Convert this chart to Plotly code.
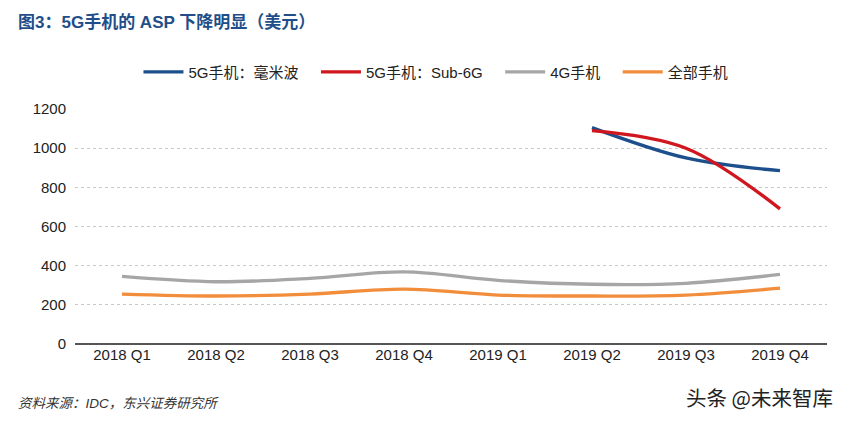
import plotly.graph_objects as go

categories = ["2018 Q1", "2018 Q2", "2018 Q3", "2018 Q4", "2019 Q1", "2019 Q2", "2019 Q3", "2019 Q4"]
mmwave = [None, None, None, None, None, 1105, 950, 885]
sub6 = [None, None, None, None, None, 1090, 1000, 690]
g4 = [345, 318, 335, 368, 325, 305, 310, 355]
allphones = [255, 245, 255, 280, 250, 245, 250, 285]
y_ticks = [0, 200, 400, 600, 800, 1000, 1200]

FONT = "Liberation Sans, Arial, Noto Sans CJK SC, sans-serif"
PAD = "\u00a0\u00a0\u00a0"

fig = go.Figure()
series = [
    ("5G手机：毫米波" + PAD, mmwave, "#1c4f8c"),
    ("5G手机：Sub-6G" + PAD, sub6, "#d0161e"),
    ("4G手机" + PAD, g4, "#a6a6a6"),
    ("全部手机", allphones, "#f28d3c"),
]
for name, vals, color in series:
    fig.add_trace(go.Scatter(
        x=categories, y=vals, name=name, mode="lines",
        line=dict(color=color, width=3.3, shape="spline", smoothing=1.0),
        connectgaps=False,
    ))

fig.update_layout(
    width=842, height=423,
    margin=dict(l=67, r=23, t=101, b=87, autoexpand=False),
    paper_bgcolor="white", plot_bgcolor="white",
    font=dict(family=FONT, size=14, color="#222"),
    showlegend=True,
    legend=dict(orientation="h", x=0.48, xanchor="center", y=1.157, yanchor="middle",
                font=dict(size=15, color="#222"), itemwidth=40, traceorder="normal",
                tracegroupgap=0),
    xaxis=dict(type="category", showgrid=False, showline=False, ticks="",
               tickfont=dict(size=15, color="#222"), range=[-0.5, 7.5], automargin=False),
    yaxis=dict(range=[0, 1200], tickvals=y_ticks, showgrid=True,
               gridcolor="#c8c8c8", griddash="dot", gridwidth=1,
               zeroline=True, zerolinecolor="#555", zerolinewidth=2,
               tickfont=dict(size=15, color="#222"), ticks="", showline=False,
               ticklabelstandoff=8, automargin=False),
    annotations=[
        dict(text="<b>图3：5G手机的 ASP 下降明显（美元）</b>", xref="paper", yref="paper",
             x=-0.078, xanchor="left", y=1.37, yanchor="middle", showarrow=False,
             font=dict(size=17, color="#1f4e89", family=FONT)),
        dict(text="<i>资料来源：IDC，东兴证券研究所</i>", xref="paper", yref="paper",
             x=-0.078, xanchor="left", y=-0.255, yanchor="middle", showarrow=False,
             font=dict(size=13.5, color="#333", family=FONT)),
        dict(text="头条 @未来智库", xref="paper", yref="paper",
             x=1.01, xanchor="right", y=-0.226, yanchor="middle", showarrow=False,
             font=dict(size=20.5, color="#222", family="Noto Sans CJK SC, sans-serif")),
    ],
)

fig.write_html("out.html")
